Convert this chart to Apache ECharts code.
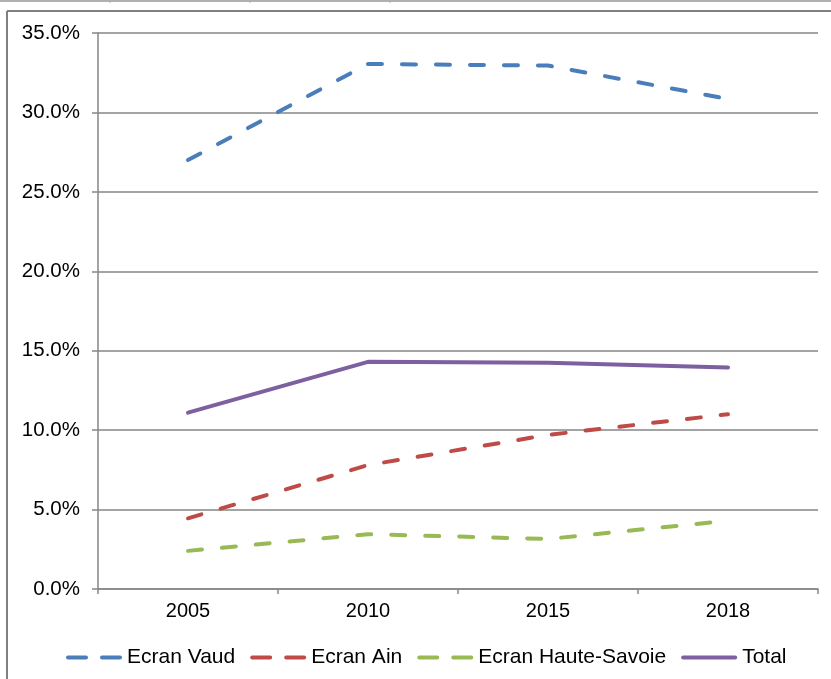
<!DOCTYPE html>
<html>
<head>
<meta charset="utf-8">
<script src="https://cdn.jsdelivr.net/npm/echarts@6/dist/echarts.min.js"></script>
<style>
html,body{margin:0;padding:0;background:#fff;}
#c{width:831px;height:679px;}
</style>
</head>
<body>
<div id="c"></div>
<script>
var years = ['2005', '2010', '2015', '2018'];
var vaud = [27.0, 33.05, 32.95, 30.85];
var ain = [4.45, 7.8, 9.7, 11.0];
var hauteSavoie = [2.4, 3.45, 3.15, 4.3];
var total = [11.1, 14.3, 14.25, 13.95];
var seriesNames = ['Ecran Vaud', 'Ecran Ain', 'Ecran Haute-Savoie', 'Total'];
var colors = ['#4A7EBB', '#BE4B48', '#98B954', '#7D60A0'];
var yTicks = {min: 0, max: 35, interval: 5};

var chart = echarts.init(document.getElementById('c'), null, {renderer: 'canvas'});
var font = '"Liberation Sans", Arial, sans-serif';
var gray = '#868686';
var dashIcon = 'path://M2,0h18a2,2 0 0 1 0,4h-18a2,2 0 0 1 0,-4z M36,0h18a2,2 0 0 1 0,4h-18a2,2 0 0 1 0,-4z';
var solidIcon = 'path://M2,0h52a2,2 0 0 1 0,4h-52a2,2 0 0 1 0,-4z';
function s(name, data, color, dashed) {
  return {
    name: name, type: 'line', data: data, symbol: 'none', smooth: false,
    lineStyle: {color: color, width: 4, type: dashed ? [14, 20] : 'solid', cap: 'round', join: 'round'},
    itemStyle: {color: color},
    emphasis: {disabled: true}
  };
}
chart.setOption({
  animation: false,
  backgroundColor: '#fff',
  textStyle: {fontFamily: font},
  grid: {left: 98, right: 13, top: 33, bottom: 90, containLabel: false},
  legend: {
    left: 66, top: 647, padding: 0, itemWidth: 56, itemHeight: 4, itemGap: 15,
    textStyle: {fontSize: 21, color: '#000', fontFamily: font},
    data: seriesNames.map(function (n, i) {
      return {name: n, icon: i < 3 ? dashIcon : solidIcon, itemStyle: {color: colors[i]}};
    })
  },
  xAxis: {
    type: 'category', data: years, boundaryGap: true,
    axisLine: {lineStyle: {color: gray, width: 1.5}},
    axisTick: {show: true, alignWithLabel: false, length: 5, lineStyle: {color: gray, width: 1.5}},
    axisLabel: {fontSize: 20, color: '#000', margin: 12, fontFamily: font}
  },
  yAxis: {
    type: 'value', min: yTicks.min, max: yTicks.max, interval: yTicks.interval,
    axisLine: {show: true, lineStyle: {color: gray, width: 1.5}},
    axisTick: {show: true, length: 6, lineStyle: {color: gray, width: 1.5}},
    splitLine: {show: true, lineStyle: {color: gray, width: 1.5}},
    axisLabel: {fontSize: 20.5, color: '#000', margin: 18, fontFamily: font,
      formatter: function (v) { return v.toFixed(1) + '%'; }}
  },
  series: [
    s(seriesNames[0], vaud, colors[0], true),
    s(seriesNames[1], ain, colors[1], true),
    s(seriesNames[2], hauteSavoie, colors[2], true),
    s(seriesNames[3], total, colors[3], false)
  ],
  graphic: [
    {type: 'line', shape: {x1: 0, y1: 1, x2: 831, y2: 1}, style: {stroke: '#b0b0b0', lineWidth: 2}},
    {type: 'line', shape: {x1: 110, y1: 0, x2: 110, y2: 3}, style: {stroke: '#b0b0b0', lineWidth: 1}},
    {type: 'line', shape: {x1: 250, y1: 0, x2: 250, y2: 3}, style: {stroke: '#b0b0b0', lineWidth: 1}},
    {type: 'line', shape: {x1: 390, y1: 0, x2: 390, y2: 3}, style: {stroke: '#b0b0b0', lineWidth: 1}},
    {type: 'line', shape: {x1: 7, y1: 11, x2: 831, y2: 11}, style: {stroke: '#808080', lineWidth: 2}},
    {type: 'line', shape: {x1: 7, y1: 11, x2: 7, y2: 679}, style: {stroke: '#808080', lineWidth: 2}}
  ]
});
</script>
</body>
</html>
